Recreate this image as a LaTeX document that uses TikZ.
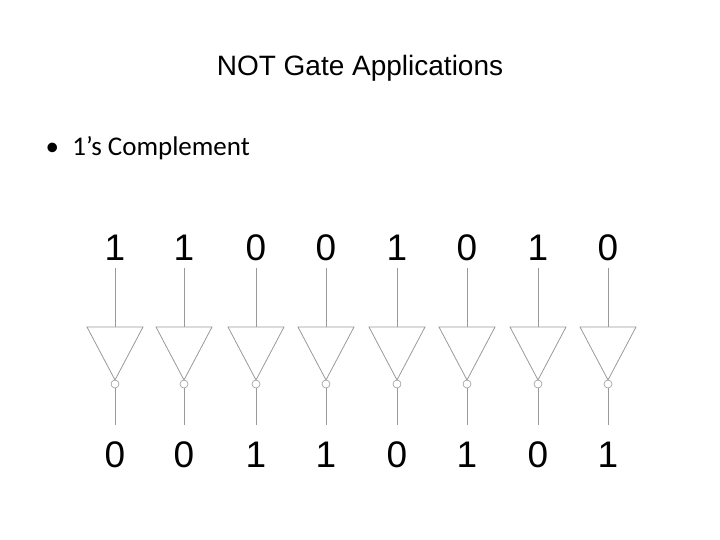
\documentclass[tikz,border=0pt]{standalone}
\usepackage{fontspec}
\setmainfont{Liberation Sans}
\newfontfamily\bodyfont{Carlito}
\usetikzlibrary{positioning}
\tikzset{
  wire/.style={draw=gray!80, line width=0.8pt},
  bit/.style={font=\fontsize{37}{37}\selectfont, inner sep=0pt}
}
\begin{document}
\begin{tikzpicture}[x=1pt, y=-1pt]
  \useasboundingbox (0,0) rectangle (720,540);
  % Title and bullet
  \node (title) at (360,68) {\fontsize{28}{32}\selectfont NOT Gate Applications};
  \node[anchor=west] (item) at (42,148) {\bodyfont\fontsize{27}{30}\selectfont \textbullet\hspace{0.5em}1’s Complement};
  % Inverters
  \foreach \x/\a/\b [count=\i] in {115/1/0, 184/1/0, 256/0/1, 326/0/1, 397/1/0, 467/0/1, 538/1/0, 608/0/1} {
    \node[bit] (in\i) at (\x,248) {\a};
    \node[bit] (out\i) at (\x,455) {\b};
    \coordinate (top\i) at (\x,327);
    \coordinate (tip\i) at (\x,380);
    \draw[wire] (\x-28,327) -- (\x+28,327) -- (tip\i) -- cycle;
    \node[circle, draw=gray!80, line width=0.6pt, minimum size=8pt, inner sep=0pt] (bub\i) at (\x,384) {};
    \draw[wire] (\x,268) -- (top\i);
    \draw[wire] (bub\i.south) -- (\x,425);
  }
\end{tikzpicture}
\end{document}
